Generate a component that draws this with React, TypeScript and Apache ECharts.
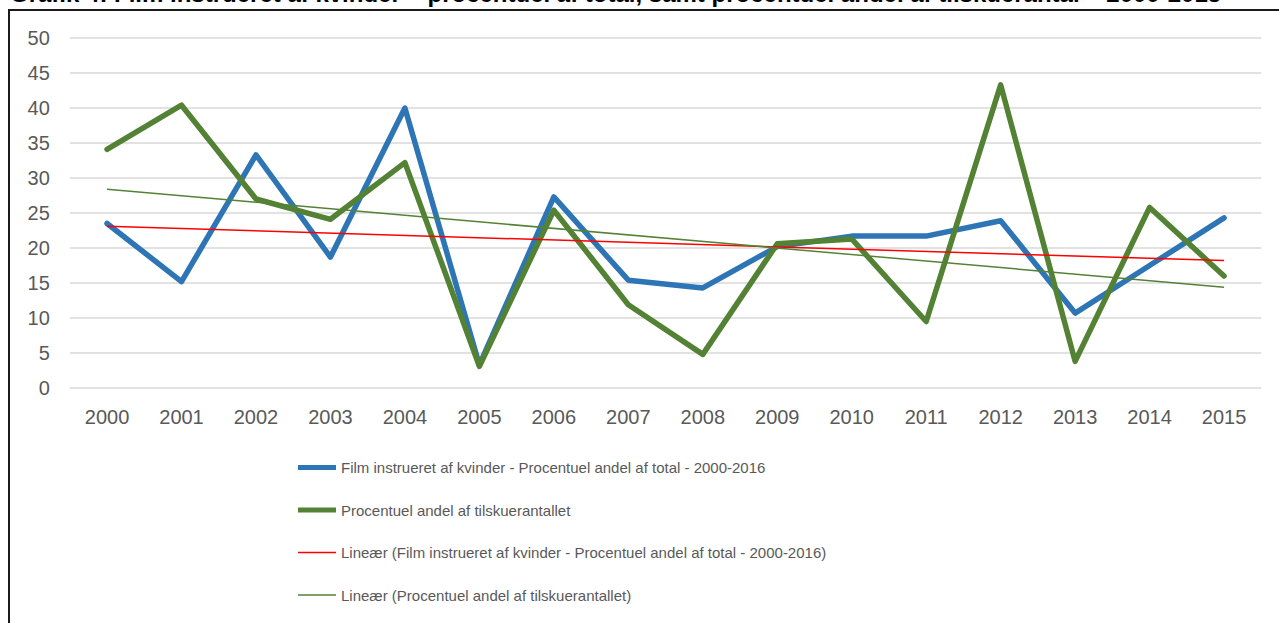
import React, { useEffect, useRef } from "react";
import * as echarts from "echarts";

const years = ["2000","2001","2002","2003","2004","2005","2006","2007","2008","2009","2010","2011","2012","2013","2014","2015"];
const filmShare = [23.5, 15.2, 33.3, 18.7, 40.0, 3.3, 27.3, 15.4, 14.3, 20.2, 21.7, 21.7, 23.9, 10.7, 17.5, 24.3];
const audienceShare = [34.1, 40.4, 27.0, 24.1, 32.2, 3.1, 25.4, 11.9, 4.8, 20.6, 21.3, 9.5, 43.3, 3.8, 25.8, 16.0];
// trendline endpoints (2000 and 2015)
const filmTrend = [23.1, null, null, null, null, null, null, null, null, null, null, null, null, null, null, 18.2];
const audienceTrend = [28.4, null, null, null, null, null, null, null, null, null, null, null, null, null, null, 14.4];

const nameFilm = "Film instrueret af kvinder - Procentuel andel af total - 2000-2016";
const nameAud = "Procentuel andel af tilskuerantallet";
const nameFilmTrend = "Lineær (Film instrueret af kvinder - Procentuel andel af total - 2000-2016)";
const nameAudTrend = "Lineær (Procentuel andel af tilskuerantallet)";
const titleText = "Grafik 4: Film instrueret af kvinder – procentuel af total, samt procentuel andel af tilskuerantal – 2000-2015";

const thickIcon = "path://M0,0 H38 V5 H0 Z";
const thinIcon = "path://M0,0 H38 V1.5 H0 Z";

export default function App() {
  const ref = useRef<HTMLDivElement>(null);
  useEffect(() => {
    if (!ref.current) return;
    const chart = echarts.init(ref.current, null, { renderer: "svg" });
    const txt = "#595959";
    const sans = "'Liberation Sans', Arial, sans-serif";
    chart.setOption({
      animation: false,
      backgroundColor: "#ffffff",
      graphic: [
        { type: "rect", shape: { x: 9, y: 10, width: 1320, height: 700 }, style: { fill: "none", stroke: "#1a1a1a", lineWidth: 2 }, silent: true },
        { type: "text", x: 10, y: 5, style: { text: titleText, font: "bold 24px 'Liberation Sans', Arial, sans-serif", fill: "#000", textVerticalAlign: "bottom", textBaseline: "alphabetic" }, silent: true, z: -1 },
      ],
      grid: { left: 69.8, right: 17.7, top: 38, bottom: 235, containLabel: false },
      xAxis: {
        type: "category",
        data: years,
        boundaryGap: true,
        axisLine: { show: false },
        axisTick: { show: false },
        axisLabel: { color: txt, fontSize: 20, fontFamily: sans, margin: 19 },
      },
      yAxis: {
        type: "value",
        min: 0,
        max: 50,
        interval: 5,
        axisLine: { show: false },
        axisTick: { show: false },
        axisLabel: { color: txt, fontSize: 20, fontFamily: sans, margin: 20 },
        splitLine: { lineStyle: { color: "#D9D9D9", width: 1.5 } },
      },
      legend: {
        orient: "vertical",
        left: 298,
        top: 460,
        padding: 0,
        itemWidth: 38,
        itemHeight: 14,
        itemGap: 27.5,
        textStyle: { color: txt, fontSize: 15, fontFamily: sans },
        data: [
          { name: nameFilm, icon: thickIcon, itemStyle: { color: "#2E75B6" } },
          { name: nameAud, icon: thickIcon, itemStyle: { color: "#548235" } },
          { name: nameFilmTrend, icon: thinIcon, itemStyle: { color: "#FF0000" } },
          { name: nameAudTrend, icon: thinIcon, itemStyle: { color: "#548235" } },
        ],
      },
      series: [
        {
          name: nameFilm, type: "line", data: filmShare, symbol: "none",
          lineStyle: { color: "#2E75B6", width: 5.5, cap: "round", join: "round" },
          itemStyle: { color: "#2E75B6" }, z: 3,
        },
        {
          name: nameAud, type: "line", data: audienceShare, symbol: "none",
          lineStyle: { color: "#548235", width: 5.5, cap: "round", join: "round" },
          itemStyle: { color: "#548235" }, z: 4,
        },
        {
          name: nameFilmTrend, type: "line", data: filmTrend, symbol: "none", connectNulls: true,
          lineStyle: { color: "#FF0000", width: 1.5 },
          itemStyle: { color: "#FF0000" }, z: 5,
        },
        {
          name: nameAudTrend, type: "line", data: audienceTrend, symbol: "none", connectNulls: true,
          lineStyle: { color: "#548235", width: 1.5 },
          itemStyle: { color: "#548235" }, z: 5,
        },
      ],
    });
    return () => chart.dispose();
  }, []);
  return <div ref={ref} style={{ position: "fixed", left: 0, top: 0, width: 1279, height: 623 }} />;
}
